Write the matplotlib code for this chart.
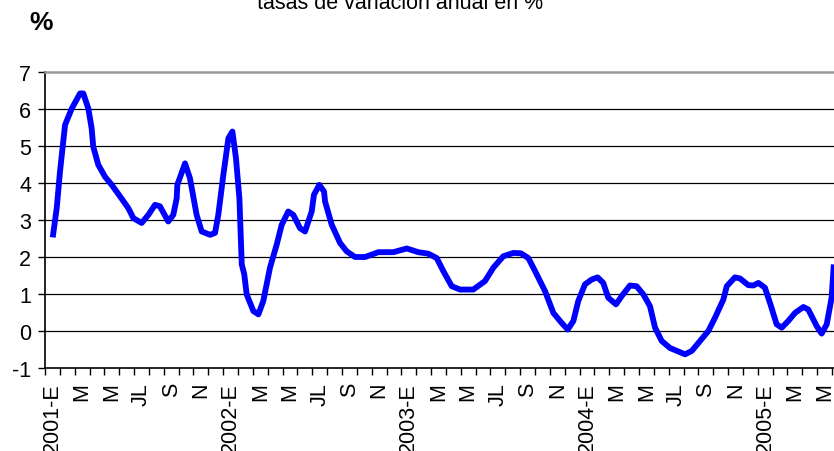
import matplotlib
matplotlib.use("Agg")
import matplotlib.pyplot as plt
import numpy as np

plt.rcParams["font.family"] = ["Liberation Sans", "DejaVu Sans"]
plt.rcParams["axes.unicode_minus"] = False

# posicion en meses desde enero 2001 (0 = inicio de enero) y tasa anual en %
meses = [0.52, 0.79, 1.01, 1.35, 1.80, 2.36, 2.58, 2.92, 3.14, 3.25, 3.59, 4.04,
         4.49, 5.05, 5.61, 5.95, 6.51, 6.96, 7.41, 7.74, 8.30, 8.64, 8.87, 8.91,
         9.43, 9.76, 10.21, 10.55, 11.11, 11.45, 11.67, 12.01, 12.35, 12.62, 12.86,
         13.09, 13.25, 13.42, 13.58, 14.03, 14.37, 14.70, 15.15, 15.60, 15.94, 16.38,
         16.72, 17.17, 17.51, 17.96, 18.11, 18.47, 18.79, 18.86, 19.31, 19.87, 20.32,
         20.88, 21.55, 22.45, 23.46, 24.36, 25.14, 25.81, 26.38, 26.82, 27.39, 27.95,
         28.84, 29.63, 30.19, 30.86, 31.54, 32.05, 32.55, 33.00, 33.67, 34.23, 34.79,
         35.20, 35.58, 35.91, 36.36, 36.81, 37.21, 37.59, 37.93, 38.45, 38.83, 39.39,
         39.84, 40.29, 40.74, 41.08, 41.53, 42.09, 43.10, 43.55, 44.11, 44.67, 45.12,
         45.68, 45.91, 46.46, 46.80, 47.36, 47.70, 48.04, 48.48, 48.82, 49.27, 49.61,
         50.05, 50.51, 51.07, 51.40, 51.97, 52.30, 52.64, 52.97, 53.12]
tasa = [2.53, 3.32, 4.31, 5.57, 6.01, 6.42, 6.42, 6.01, 5.48, 4.98, 4.49, 4.17,
        3.95, 3.64, 3.32, 3.05, 2.92, 3.14, 3.41, 3.37, 2.96, 3.14, 3.59, 3.95,
        4.53, 4.13, 3.14, 2.69, 2.60, 2.65, 3.14, 4.22, 5.21, 5.39, 4.67,
        3.59, 1.80, 1.53, 0.99, 0.54, 0.45, 0.81, 1.71, 2.33, 2.87, 3.23,
        3.14, 2.78, 2.69, 3.23, 3.68, 3.95, 3.77, 3.50, 2.87, 2.38, 2.15,
        2.00, 2.00, 2.13, 2.13, 2.23, 2.13, 2.09, 1.97, 1.62, 1.21, 1.12,
        1.12, 1.35, 1.71, 2.02, 2.11, 2.10, 1.97, 1.62, 1.08, 0.49, 0.22,
        0.04, 0.27, 0.81, 1.26, 1.39, 1.45, 1.30, 0.90, 0.72, 0.94, 1.23,
        1.21, 0.99, 0.67, 0.09, -0.27, -0.46, -0.63, -0.54, -0.27, 0.00, 0.36,
        0.85, 1.21, 1.45, 1.42, 1.24, 1.23, 1.30, 1.17, 0.76, 0.18, 0.09,
        0.27, 0.49, 0.65, 0.58, 0.13, -0.07, 0.18, 0.90, 1.80]

anios = ["2001", "2002", "2003", "2004", "2005"]
meses_lbl = ["E", "M", "M", "JL", "S", "N"]
n_meses = 53

etiquetas = []
for i in range(0, n_meses, 2):
    k = (i % 12) // 2
    if k == 0:
        etiquetas.append(anios[i // 12] + "-E")
    else:
        etiquetas.append(meses_lbl[k])

fig = plt.figure(figsize=(8.34, 4.52), dpi=100)
ax = fig.add_axes([45 / 834, 1 - 369 / 452, 1 - 45 / 834, (369 - 73) / 452])

for y in range(0, 7):
    ax.axhline(y, color="black", lw=0.9, zorder=1)

ax.plot(meses, tasa, color="#0000ff", lw=4.2, solid_joinstyle="round",
        solid_capstyle="butt", zorder=3)

ax.set_xlim(0, (834 - 45) / 14.85)
ax.set_ylim(-1, 7)

ax.set_yticks(range(-1, 8))
ax.tick_params(axis="y", direction="out", length=5, width=1, labelsize=15.5, pad=5)

ax.set_xticks(np.arange(0, n_meses + 1), minor=False)
ax.set_xticklabels([])
ax.set_xticks(np.arange(0, n_meses, 2) + 0.5, minor=True)
ax.set_xticklabels(etiquetas, minor=True, rotation=90, fontsize=15.5, va="top", ha="center")
ax.tick_params(axis="x", which="major", direction="out", length=5, width=1)
ax.tick_params(axis="x", which="minor", length=0, pad=10)

ax.spines["top"].set_color("#999999")
ax.spines["top"].set_linewidth(1.8)
ax.spines["right"].set_visible(False)
ax.spines["left"].set_linewidth(1.2)
ax.spines["bottom"].set_linewidth(1.2)

fig.text(41 / 834, 1 - 23 / 452, "%", fontsize=19, fontweight="bold",
         ha="center", va="center")
fig.text(400 / 834, 1 - 9 / 452, "tasas de variación anual en %", fontsize=15.5,
         ha="center", va="baseline")

plt.savefig("out.png", dpi=100)
plt.close()
